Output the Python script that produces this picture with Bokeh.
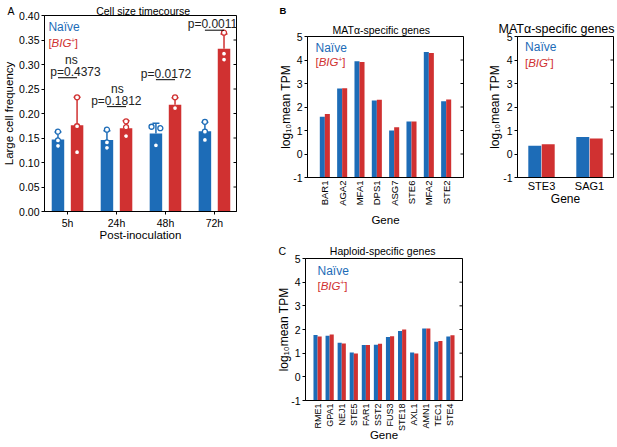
from math import pi
from bokeh.plotting import figure
from bokeh.models import Range1d, FixedTicker, Label, PrintfTickFormatter, Title
from bokeh.core.properties import value
from bokeh.layouts import row, column
from bokeh.embed import file_html
from bokeh.resources import INLINE

FONT = "Liberation Sans"
BLUE = "#1d6cb7"
RED = "#d03131"
NB = "\u00a0"

# ---------------- data ----------------
timepoints = ["5h", "24h", "48h", "72h"]
naive_mean = [0.147, 0.146, 0.159, 0.164]
naive_sd = [0.015, 0.019, 0.021, 0.018]
big_mean = [0.176, 0.170, 0.218, 0.332]
big_sd = [0.057, 0.015, 0.014, 0.030]
naive_reps = [[0.163, 0.145, 0.134], [0.167, 0.141, 0.130], [0.173, 0.170, 0.135], [0.183, 0.163, 0.146]]
big_reps = [[0.233, 0.174, 0.121], [0.184, 0.172, 0.154], [0.233, 0.211, 0.211], [0.365, 0.322, 0.310]]
p_text = ["p=0.4373", "p=0.1812", "p=0.0172", "p=0.0011"]
ns_text = ["ns", "ns", "", ""]
bracket_y = [0.273, 0.214, 0.269, 0.370]
freq_ticks = [0.0, 0.05, 0.10, 0.15, 0.20, 0.25, 0.30, 0.35, 0.40]

mata_genes = ["BAR1", "AGA2", "MFA1", "DPS1", "ASG7", "STE6", "MFA2", "STE2"]
mata_naive = [1.59, 2.79, 3.95, 2.28, 1.00, 1.38, 4.34, 2.25]
mata_big = [1.70, 2.80, 3.92, 2.31, 1.14, 1.38, 4.30, 2.32]

matalpha_genes = ["STE3", "SAG1"]
matalpha_naive = [0.35, 0.72]
matalpha_big = [0.42, 0.66]

haploid_genes = ["RME1", "GPA1", "NEJ1", "STE5", "FAR1", "SST2", "FUS3", "STE18", "AXL1", "AMN1", "TEC1", "STE4"]
haploid_naive = [1.77, 1.74, 1.44, 1.03, 1.34, 1.36, 1.68, 1.94, 1.03, 2.04, 1.48, 1.70]
haploid_big = [1.70, 1.79, 1.41, 0.99, 1.34, 1.40, 1.72, 2.00, 0.99, 2.04, 1.51, 1.76]
log_ticks = [-1, 0, 1, 2, 3, 4, 5]


# ---------------- helpers ----------------
def make_fig(geom):
    ox, oy, w, h, fl, ft, fw, fh, xr, yr = geom
    p = figure(width=w, height=h, x_range=Range1d(*xr), y_range=Range1d(*yr),
               output_backend="svg", toolbar_location=None, title=None,
               min_border_left=fl, min_border_right=w - fl - fw,
               min_border_top=ft, min_border_bottom=h - ft - fh)
    p.xgrid.visible = False
    p.ygrid.visible = False
    p.outline_line_color = "black"
    p.outline_line_width = 1
    p.outline_line_alpha = 1
    p.background_fill_color = "white"
    p.border_fill_color = "white"
    return p


def style_axis(ax, size):
    ax.axis_line_color = "black"
    ax.axis_line_width = 1
    ax.major_tick_line_color = "black"
    ax.minor_tick_line_color = None
    ax.major_label_text_font = FONT
    ax.major_label_text_font_size = size
    ax.major_label_text_color = "black"
    ax.axis_label_text_font = FONT
    ax.axis_label_text_font_style = "normal"
    ax.axis_label_text_color = "black"


def setup_axes(p, geom, yticks, xticks, xlabels, rotate, ylabel, ylabel_size, ylabel_standoff,
               xlabel, xlabel_size, xlabel_standoff, yfmt=None, xsize="10.5px", xstand=3, xtick=0):
    ya = p.yaxis[0]
    style_axis(ya, "10.5px")
    ya.ticker = FixedTicker(ticks=yticks)
    ya.major_tick_out = 3
    ya.major_tick_in = 0
    ya.major_label_standoff = 2
    if yfmt:
        ya.formatter = PrintfTickFormatter(format=yfmt)
    else:
        ya.major_label_overrides = {t: str(t) for t in yticks}
    ya.axis_label = ylabel
    ya.axis_label_text_font_size = f"{ylabel_size}px"
    ya.axis_label_standoff = ylabel_standoff
    xa = p.xaxis[0]
    style_axis(xa, xsize)
    xa.ticker = FixedTicker(ticks=xticks)
    xa.major_label_overrides = {t: l for t, l in zip(xticks, xlabels)}
    if rotate:
        xa.major_label_orientation = pi / 2
    xa.major_tick_out = xtick
    xa.major_tick_in = 0
    xa.major_label_standoff = xstand
    xa.axis_label = xlabel
    xa.axis_label_text_font_size = f"{xlabel_size}px"
    xa.axis_label_standoff = xlabel_standoff
    # mirrored inward ticks on the right frame edge (outer half clipped by the frame)
    xr = geom[8]
    p.scatter(x=[xr[1]] * len(yticks), y=yticks, marker="dash", size=6,
              line_color="black", line_width=1)


def add_title(p, text, size, offset, standoff, style="normal", valign="bottom"):
    p.add_layout(Title(text=text, align="left", offset=offset, standoff=standoff,
                       text_font=FONT, text_font_size=f"{size}px", text_font_style=style,
                       vertical_align=valign, text_color="black"), "above")


def add_text(p, geom, px, py, text, size, color="black", align="left",
             baseline="middle", style="normal"):
    ox, oy, w, h, fl, ft, fw, fh, xr, yr = geom
    cx = px - ox
    cy = py - oy
    xd = xr[0] + (cx - fl) / fw * (xr[1] - xr[0])
    yd = yr[1] - (cy - ft) / fh * (yr[1] - yr[0])
    p.add_layout(Label(x=xd, y=yd, text=text, text_font=FONT, text_font_size=f"{size}px",
                       text_color=color, text_align=align, text_baseline=baseline,
                       text_font_style=style))


def add_legend(p, geom, px, py1, py2):
    add_text(p, geom, px, py1, "Naïve", 12, BLUE)
    s = 11.5
    add_text(p, geom, px, py2, "[", s, RED)
    add_text(p, geom, px + 3.2, py2, "BIG", s, RED, style="italic")
    add_text(p, geom, px + 3.2 + 19.6, py2 - 3, "+", 7, RED)
    add_text(p, geom, px + 3.2 + 19.6 + 4.0, py2, "]", s, RED)


def grouped_bars(p, n, naive, big, width, off, base):
    xs = list(range(1, n + 1))
    p.vbar(x=[x - off for x in xs], width=width, top=naive, bottom=base,
           fill_color=BLUE, line_color=None)
    p.vbar(x=[x + off for x in xs], width=width, top=big, bottom=base,
           fill_color=RED, line_color=None)


# ---------------- Panel A ----------------
gA = (0, 0, 245, 250, 41, 15, 195, 196, (0.53, 4.45), (0.0, 0.40))
pA = make_fig(gA)
setup_axes(pA, gA, freq_ticks, [1, 2, 3, 4], timepoints, False,
           "Large cell frequency", 11.5, 1, "Post-inoculation", 11.5, -3,
           yfmt="%.2f", xsize="10.5px", xstand=2, xtick=3)
offA = 0.195
grouped_bars(pA, 4, naive_mean, big_mean, 0.255, offA, 0)

jit = [[0, 0, 0], [0, 0, 0], [-0.09, 0.09, 0], [0, 0, 0]]
for reps_list, means, sds, col, sgn in ((naive_reps, naive_mean, naive_sd, BLUE, -1),
                                        (big_reps, big_mean, big_sd, RED, 1)):
    cx = [i + 1 + sgn * offA for i in range(4)]
    tops = [m + s for m, s in zip(means, sds)]
    pA.segment(x0=cx, y0=means, x1=cx, y1=tops, line_color=col, line_width=1.5)
    pA.scatter(x=cx, y=tops, marker="dash", size=7, line_color=col, line_width=1.5)
    px, py = [], []
    for i, reps in enumerate(reps_list):
        for j, v in enumerate(reps):
            px.append(cx[i] + (jit[i][j] if sgn < 0 else 0))
            py.append(v)
    pA.scatter(x=px, y=py, marker="circle", size=5, fill_color="white",
               line_color=col, line_width=1.3)

pA.segment(x0=[i + 1 - offA for i in range(4)], x1=[i + 1 + offA for i in range(4)],
           y0=bracket_y, y1=bracket_y, line_color="black", line_width=1)
p_x = [1.163, 1.997, 3.012, 3.96]
ns_x = [1.079, 2.017, 3.0, 4.0]
pA.text(x=p_x, y=bracket_y, text=p_text, text_font=value(FONT), text_font_size="12px",
        text_align="center", text_baseline="middle", y_offset=-6, text_color="#222222")
pA.text(x=ns_x, y=bracket_y, text=ns_text, text_font=value(FONT), text_font_size="12px",
        text_align="center", text_baseline="middle", y_offset=-18, text_color="#222222")

add_title(pA, "A" + NB * 28 + "Cell size timecourse", 10.5, -37, -2)
add_legend(pA, gA, 45, 26, 42.5)

# ---------------- Panel B (MATa) ----------------
gB1 = (245, 0, 240, 228, 62, 36, 156, 142, (0.0, 9.0), (-1.0, 5.0))
pB1 = make_fig(gB1)
setup_axes(pB1, gB1, log_ticks, list(range(1, 9)), mata_genes, True,
           "log₁₀mean TPM", 12, -3, "Gene", 11.5, 5, xsize="9.5px", xstand=3)
grouped_bars(pB1, 8, mata_naive, mata_big, 0.29, 0.145, -1)
add_title(pB1, "MATα-specific genes", 10.5, 25, 2)
add_title(pB1, "B", 9.5, -28, 6, style="bold", valign="top")
add_legend(pB1, gB1, 315, 47.5, 62)

# ---------------- Panel B (MATalpha) ----------------
gB2 = (485, 0, 131, 228, 27, 36, 101, 142, (0.5, 2.5), (-1.0, 5.0))
pB2 = make_fig(gB2)
setup_axes(pB2, gB2, log_ticks, [1, 2], matalpha_genes, False,
           "log₁₀mean TPM", 12, -2, "Gene", 12, -3, xsize="11px", xstand=2)
grouped_bars(pB2, 2, matalpha_naive, matalpha_big, 0.27, 0.14, -1)
add_title(pB2, "MATα-specific genes", 12.5, -19, 2)
add_legend(pB2, gB2, 520, 47, 62.5)

# ---------------- Panel C ----------------
gC = (245, 228, 240, 218, 60, 30, 157, 142, (0.0, 13.0), (-1.0, 5.0))
pC = make_fig(gC)
setup_axes(pC, gC, log_ticks, list(range(1, 13)), haploid_genes, True,
           "log₁₀mean TPM", 12, -3, "Gene", 11.5, -5, xsize="9px", xstand=3)
grouped_bars(pC, 12, haploid_naive, haploid_big, 0.34, 0.17, -1)
add_title(pC, "C" + NB * 15 + "Haploid-specific genes", 10.5, -27, 3)
add_legend(pC, gC, 317, 270, 285)

layout = row(pA, column(row(pB1, pB2), pC))
open("out.html", "w").write(file_html(layout, INLINE))
